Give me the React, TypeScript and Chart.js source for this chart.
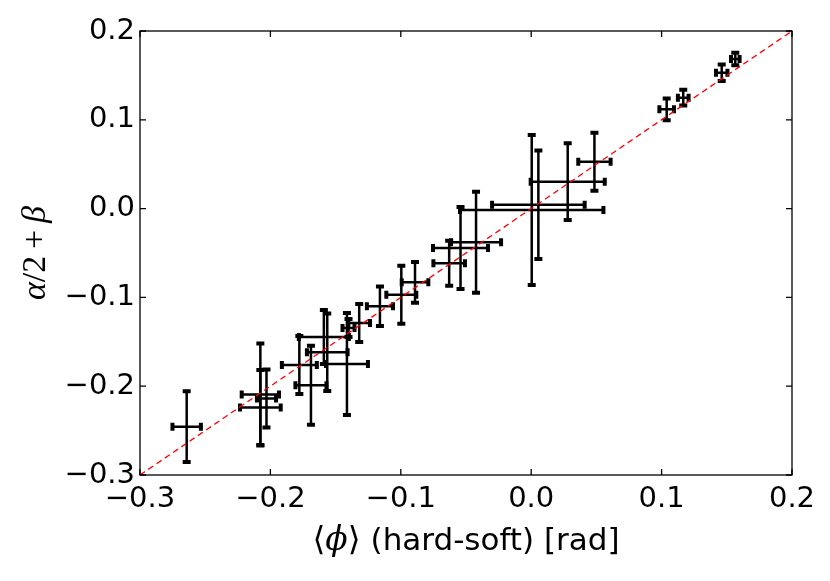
import { useEffect, useRef } from 'react';
import { Chart, registerables } from 'chart.js';

Chart.register(...registerables);

// mean phase lag <phi> (hard-soft) and its error, per segment
const phiX = [
  -0.2642, -0.2077, -0.2077, -0.203, -0.1778, -0.1689, -0.159, -0.1564, -0.1413,
  -0.1401, -0.1319, -0.116, -0.0996, -0.0891, -0.0629, -0.0542, -0.0423,
  0.0004, 0.0055, 0.028, 0.0485, 0.1039, 0.1166, 0.1461, 0.1565,
];
const phiErr = [
  0.0109, 0.0143, 0.0156, 0.0073, 0.0134, 0.0119, 0.0192, 0.0156, 0.0161,
  0.0046, 0.0083, 0.01, 0.0115, 0.0102, 0.0121, 0.0211, 0.0192,
  0.055, 0.0355, 0.0284, 0.0124, 0.0056, 0.0041, 0.0044, 0.0033,
];
// alpha/2 + beta and its error
const slopeY = [
  -0.2456, -0.2093, -0.224, -0.2139, -0.1761, -0.1989, -0.1446, -0.1617, -0.175,
  -0.1345, -0.1288, -0.1099, -0.097, -0.083, -0.0616, -0.0444, -0.038,
  -0.0016, 0.0043, 0.0303, 0.0528, 0.1118, 0.1249, 0.153, 0.1685,
];
const slopeErr = [
  0.0398, 0.0574, 0.0422, 0.0327, 0.0327, 0.0445, 0.0304, 0.0436, 0.0574,
  0.0101, 0.0214, 0.0223, 0.0327, 0.0229, 0.0253, 0.0462, 0.0569,
  0.0845, 0.061, 0.0432, 0.0327, 0.0122, 0.0088, 0.0094, 0.007,
];
const xTicks = [-0.3, -0.2, -0.1, 0.0, 0.1, 0.2];
const yTicks = [-0.3, -0.2, -0.1, 0.0, 0.1, 0.2];
const diagonal = [-0.3, 0.2];

const fmt = (v: number | string) => Number(v).toFixed(1).replace('-', '\u2212');

const errorBars = {
  id: 'errorBars',
  beforeDatasetsDraw(chart: any) {
    const { ctx, scales } = chart;
    const xs = scales.x, ys = scales.y;
    const c = 4; // half cap length
    ctx.save();
    ctx.strokeStyle = '#000';
    phiX.forEach((xv, i) => {
      const px = xs.getPixelForValue(xv);
      const py = ys.getPixelForValue(slopeY[i]);
      const x0 = xs.getPixelForValue(xv - phiErr[i]);
      const x1 = xs.getPixelForValue(xv + phiErr[i]);
      const y0 = ys.getPixelForValue(slopeY[i] - slopeErr[i]);
      const y1 = ys.getPixelForValue(slopeY[i] + slopeErr[i]);
      ctx.lineWidth = 2.5;
      ctx.beginPath();
      ctx.moveTo(x0, py); ctx.lineTo(x1, py);
      ctx.moveTo(px, y0); ctx.lineTo(px, y1);
      ctx.stroke();
      ctx.lineWidth = 4;
      ctx.beginPath();
      ctx.moveTo(x0, py - c); ctx.lineTo(x0, py + c);
      ctx.moveTo(x1, py - c); ctx.lineTo(x1, py + c);
      ctx.moveTo(px - c, y0); ctx.lineTo(px + c, y0);
      ctx.moveTo(px - c, y1); ctx.lineTo(px + c, y1);
      ctx.stroke();
    });
    ctx.restore();
  },
};

const frame = {
  id: 'frame',
  afterDraw(chart: any) {
    const { ctx, chartArea: a, scales } = chart;
    ctx.save();
    ctx.strokeStyle = '#000';
    ctx.lineWidth = 1.3;
    ctx.strokeRect(a.left, a.top, a.right - a.left, a.bottom - a.top);
    ctx.beginPath();
    xTicks.forEach((v) => {
      const p = scales.x.getPixelForValue(v);
      ctx.moveTo(p, a.bottom); ctx.lineTo(p, a.bottom - 6);
      ctx.moveTo(p, a.top); ctx.lineTo(p, a.top + 6);
    });
    yTicks.forEach((v) => {
      const p = scales.y.getPixelForValue(v);
      ctx.moveTo(a.left, p); ctx.lineTo(a.left + 6, p);
      ctx.moveTo(a.right, p); ctx.lineTo(a.right - 6, p);
    });
    ctx.stroke();

    // x title: <phi> (hard-soft) [rad]
    const cx = (a.left + a.right) / 2;
    const base = 550;
    const parts: [string, string][] = [
      ['\u27E8', '33px "DejaVu Sans"'],
      ['\u03D5', 'italic 33px "DejaVu Serif"'],
      ['\u27E9', '33px "DejaVu Sans"'],
      [' (hard-soft) [rad]', '31px "DejaVu Sans"'],
    ];
    let total = 0;
    const widths = parts.map(([t, f]) => { ctx.font = f; const w = ctx.measureText(t).width; total += w; return w; });
    let x = cx - total / 2;
    ctx.fillStyle = '#000';
    ctx.textBaseline = 'alphabetic';
    ctx.textAlign = 'left';
    parts.forEach(([t, f], i) => { ctx.font = f; ctx.fillText(t, x, base); x += widths[i]; });

    // y title: alpha/2 + beta, rotated
    const yparts: [string, string][] = [
      ['\u03B1', 'italic 34px "Liberation Serif"'],
      ['/2', '34px "Liberation Serif"'],
      ['\u2009+\u2009', '34px "Liberation Serif"'],
      ['\u03B2', 'italic 34px "Liberation Serif"'],
    ];
    let ytotal = 0;
    const yw = yparts.map(([t, f]) => { ctx.font = f; const w = ctx.measureText(t).width; ytotal += w; return w; });
    ctx.translate(45, (a.top + a.bottom) / 2);
    ctx.rotate(-Math.PI / 2);
    let yx = -ytotal / 2;
    yparts.forEach(([t, f], i) => { ctx.font = f; ctx.fillText(t, yx, 0); yx += yw[i]; });
    ctx.restore();
  },
};

export default function App() {
  const ref = useRef<HTMLCanvasElement>(null);

  useEffect(() => {
    if (!ref.current) return;
    const tickFont = { family: '"DejaVu Sans"', size: 29 };
    const chart = new Chart(ref.current, {
      type: 'scatter',
      data: {
        datasets: [
          {
            type: 'line',
            label: 'y = x',
            data: diagonal.map((v) => ({ x: v, y: v })),
            borderColor: '#ff0000',
            borderWidth: 1.3,
            borderDash: [6, 4],
            pointRadius: 0,
            fill: false,
          },
          {
            label: 'segments',
            data: phiX.map((v, i) => ({ x: v, y: slopeY[i] })),
            pointRadius: 0,
            pointHoverRadius: 0,
          },
        ],
      },
      options: {
        responsive: false,
        animation: false,
        devicePixelRatio: 1,
        layout: { padding: { left: 0, top: 31, right: 38, bottom: 0 } },
        plugins: { legend: { display: false }, tooltip: { enabled: false } },
        scales: {
          x: {
            type: 'linear', min: -0.3, max: 0.2,
            afterBuildTicks: (s: any) => { s.ticks = xTicks.map((v) => ({ value: v })); },
            afterFit: (s: any) => { s.height = 106; },
            grid: { display: false, drawTicks: false },
            border: { display: false },
            ticks: { color: '#000', font: tickFont, padding: 7, maxRotation: 0, autoSkip: false, callback: fmt },
          },
          y: {
            type: 'linear', min: -0.3, max: 0.2,
            afterBuildTicks: (s: any) => { s.ticks = yTicks.map((v) => ({ value: v })); },
            afterFit: (s: any) => { s.width = 140; },
            grid: { display: false, drawTicks: false },
            border: { display: false },
            ticks: { color: '#000', font: tickFont, padding: 5, autoSkip: false, callback: fmt },
          },
        },
      },
      plugins: [errorBars, frame],
    });
    return () => { chart.destroy(); };
  }, []);

  return (
    <div style={{ position: 'fixed', left: 0, top: 0, width: 830, height: 581, background: '#fff' }}>
      <canvas ref={ref} width={830} height={581} />
    </div>
  );
}
